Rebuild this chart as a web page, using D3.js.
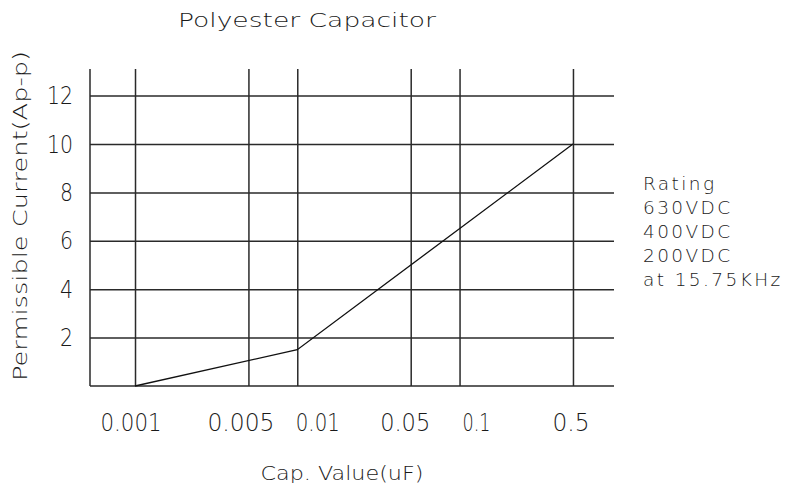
<!DOCTYPE html>
<html>
<head>
<meta charset="utf-8">
<script src="https://cdn.jsdelivr.net/npm/d3@7"></script>
<style>
  body { margin: 0; background: #fff; }
  text { font-family: "DejaVu Sans", sans-serif; font-weight: 200; fill: #1a1a1a; }
</style>
</head>
<body>
<svg id="chart" width="791" height="483"></svg>
<script>
// data
const capValues = [0.001, 0.01, 0.5];
const currentValues = [0, 1.5, 10];
const xTicks = [0.001, 0.005, 0.01, 0.05, 0.1, 0.5];
const xTickLabels = ["0.001", "0.005", "0.01", "0.05", "0.1", "0.5"];
const yTicks = [2, 4, 6, 8, 10, 12];
const ratingLines = ["Rating", "630VDC", "400VDC", "200VDC", "at 15.75KHz"];

// label nudges / widths as the original drawing placed them
const xLabelShift = [-4.5, -8, 20, -6, 16.5, -2.5];
const xLabelWidth = [61, 67, 44, 50, 28, 37];

const svg = d3.select("#chart");

const margin = { left: 90, top: 69, right: 177, bottom: 97 };
const width = 791 - margin.left - margin.right;
const height = 483 - margin.top - margin.bottom;

const chart = svg.append("g").attr("transform", `translate(${margin.left}, ${margin.top})`);

const xScale = d3.scaleLog().domain([0.000528, 0.895]).range([0, width]);
const yScale = d3.scaleLinear().domain([0, 13.1]).range([height, 0]);

const ink = "#2a2a2a";

// vertical grid + x labels
const xAxis = chart.append("g")
  .attr("transform", `translate(0, ${height})`)
  .call(d3.axisBottom(xScale)
    .tickValues(xTicks)
    .tickSize(-height)
    .tickPadding(27)
    .tickFormat((d, i) => xTickLabels[i]));
xAxis.select(".domain").remove();
xAxis.selectAll("line").attr("stroke", ink).attr("stroke-width", 1.5);
xAxis.selectAll("text")
  .style("font-size", "25px")
  .attr("fill", "#1a1a1a")
  .attr("x", (d, i) => xLabelShift[i])
  .attr("textLength", (d, i) => xLabelWidth[i])
  .attr("lengthAdjust", "spacingAndGlyphs");

// horizontal grid + y labels
const yAxis = chart.append("g")
  .call(d3.axisLeft(yScale)
    .tickValues(yTicks)
    .tickSize(-width)
    .tickPadding(17));
yAxis.select(".domain").remove();
yAxis.selectAll("line").attr("stroke", ink).attr("stroke-width", 1.5);
yAxis.selectAll("text")
  .style("font-size", "25px")
  .attr("fill", "#1a1a1a")
  .attr("textLength", d => String(d).length * 13)
  .attr("lengthAdjust", "spacingAndGlyphs");

// axis lines
chart.append("line")
  .attr("x1", 0).attr("x2", 0).attr("y1", 0).attr("y2", height)
  .attr("stroke", ink).attr("stroke-width", 1.5);
chart.append("line")
  .attr("x1", 0).attr("x2", width).attr("y1", height).attr("y2", height)
  .attr("stroke", ink).attr("stroke-width", 1.5);

// curve
const points = capValues.map((c, i) => ({ c: c, v: currentValues[i] }));
chart.append("path")
  .datum(points)
  .attr("fill", "none")
  .attr("stroke", "#111")
  .attr("stroke-width", 1.3)
  .attr("d", d3.line().x(d => xScale(d.c)).y(d => yScale(d.v)));

// titles
svg.append("text")
  .attr("x", 307).attr("y", 27)
  .attr("text-anchor", "middle")
  .attr("textLength", 258).attr("lengthAdjust", "spacingAndGlyphs")
  .style("font-size", "20px")
  .text("Polyester Capacitor");

svg.append("text")
  .attr("x", 342).attr("y", 480)
  .attr("text-anchor", "middle")
  .attr("textLength", 163).attr("lengthAdjust", "spacingAndGlyphs")
  .style("font-size", "19px")
  .text("Cap. Value(uF)");

svg.append("text")
  .attr("transform", "translate(27, 216) rotate(-90)")
  .attr("text-anchor", "middle")
  .attr("textLength", 330).attr("lengthAdjust", "spacingAndGlyphs")
  .style("font-size", "20px")
  .text("Permissible Current(Ap-p)");

// rating note
svg.append("g").selectAll("text")
  .data(ratingLines)
  .enter()
  .append("text")
  .attr("x", 643)
  .attr("y", (d, i) => 190 + i * 24)
  .style("font-size", "18.5px")
  .style("letter-spacing", "2.4px")
  .text(d => d);
</script>
</body>
</html>
